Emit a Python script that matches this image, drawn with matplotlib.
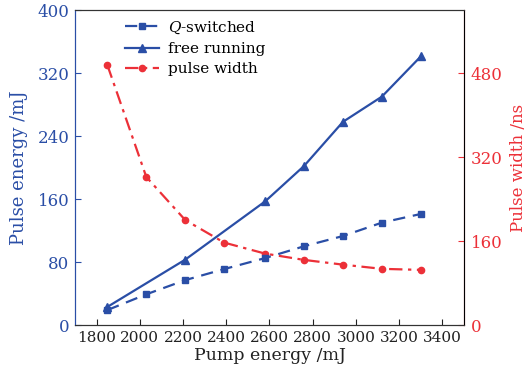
import matplotlib
matplotlib.use("Agg")
import matplotlib.pyplot as plt

plt.rcParams['font.family'] = ['DejaVu Serif']
plt.rcParams['mathtext.fontset'] = 'dejavuserif'

pump_q = [1850, 2030, 2210, 2390, 2580, 2760, 2940, 3120, 3300]
q_switched = [19, 39, 57, 71, 85, 100, 113, 130, 141]

pump_free = [1850, 2210, 2580, 2760, 2940, 3120, 3300]
free_running = [23, 83, 157, 202, 258, 290, 341]

pump_pw = [1850, 2030, 2210, 2390, 2580, 2760, 2940, 3120, 3300]
pulse_width = [495, 282, 200, 157, 136, 124, 115, 107, 105]

x_ticks = [1800, 2000, 2200, 2400, 2600, 2800, 3000, 3200, 3400]
left_ticks = [0, 80, 160, 240, 320, 400]
right_ticks = [0, 160, 320, 480]

blue = '#2a4ea6'
red = '#ec3038'

fig = plt.figure(figsize=(5.31, 3.76), dpi=100)
ax = fig.add_axes([0.1412, 0.1356, 0.7326, 0.8378])
ax2 = ax.twinx()

l1, = ax.plot(pump_q, q_switched, color=blue, lw=1.6, ls=(0, (5.5, 3.5)), marker='s', ms=4.5, label='$Q$-switched')
l2, = ax.plot(pump_free, free_running, color=blue, lw=1.6, ls='-', marker='^', ms=6, label='free running')
l3, = ax2.plot(pump_pw, pulse_width, color=red, lw=1.6, ls=(0, (6, 2.5, 1.5, 2.5)), marker='o', ms=4.5, label='pulse width')

ax.set_xlim(1700, 3500)
ax.set_ylim(0, 400)
ax2.set_ylim(0, 600)
ax.set_xticks(x_ticks)
ax.set_yticks(left_ticks)
ax2.set_yticks(right_ticks)

ax.tick_params(axis='x', direction='in', length=4, labelsize=11, colors='#222222', pad=4)
ax.tick_params(axis='y', direction='in', length=4, labelsize=12, colors=blue, pad=4)
ax2.tick_params(axis='y', direction='in', length=4, labelsize=12, colors=red, pad=5)

ax.spines['left'].set_color(blue)
ax2.spines['left'].set_color(blue)
ax2.spines['right'].set_color(red)
for a in (ax, ax2):
    a.spines['top'].set_color('#333333')
    a.spines['bottom'].set_color('#333333')

ax.set_xlabel('Pump energy /mJ', fontsize=12.5, color='#222222', labelpad=2)
ax.set_ylabel('Pulse energy /mJ', fontsize=13, color=blue, labelpad=7)
ax2.set_ylabel('Pulse width /ns', fontsize=12, color=red, labelpad=5)

leg = ax.legend(handles=[l1, l2, l3], loc='upper left', bbox_to_anchor=(0.105, 1.0), frameon=False,
                fontsize=11, handlelength=2.2, handletextpad=0.6, labelspacing=0.42, borderaxespad=0.2)
ax.set_zorder(ax2.get_zorder() + 1)
ax.patch.set_visible(False)

fig.savefig('out.png', dpi=100)
